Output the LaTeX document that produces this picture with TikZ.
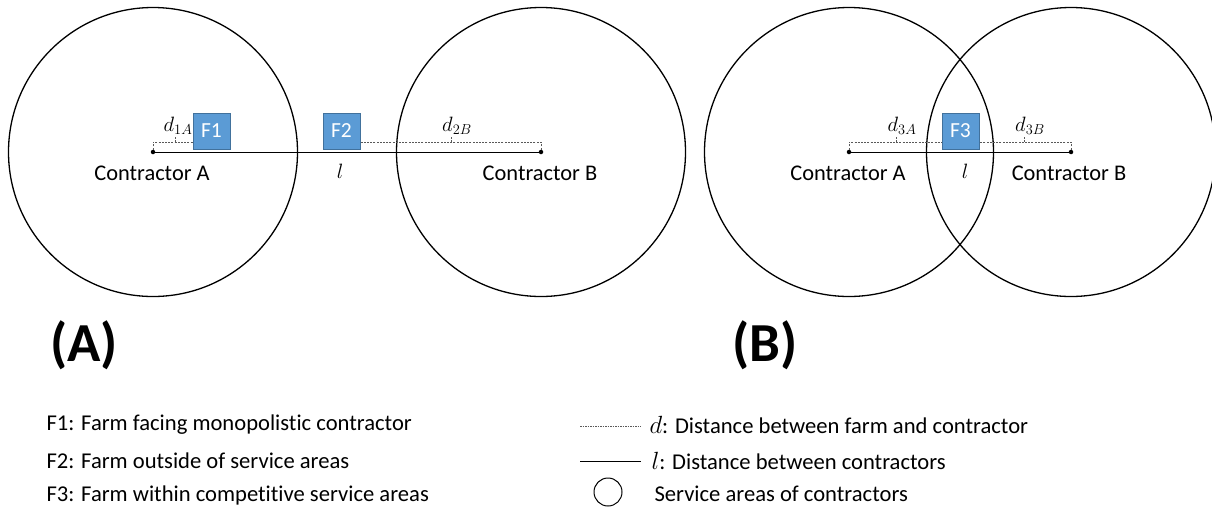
\documentclass[tikz,border=0pt]{standalone}
\usepackage{fontspec}
\setmainfont[RawFeature=-liga]{Carlito}
\definecolor{farmblue}{HTML}{5B9BD5}
\definecolor{farmedge}{HTML}{41719C}
\begin{document}
\begin{tikzpicture}[x=1pt,y=-1pt,
 area/.style={circle,draw,line width=1.3pt,minimum size=289pt,inner sep=0pt},
 dot/.style={circle,fill,inner sep=0pt,minimum size=4.5pt},
 farm/.style={draw=farmedge,fill=farmblue,line width=0.8pt,minimum width=37pt,minimum height=36pt,inner sep=0pt,text=white,font=\fontsize{21.5}{24}\selectfont},
 lab/.style={font=\fontsize{22.4}{27}\selectfont},
 dlab/.style={font=\fontsize{20}{24}\selectfont},
 conn/.style={line width=0.8pt},
 dist/.style={draw=gray!70!black,dash pattern=on 2pt off 1.2pt,line width=0.8pt},
 big/.style={font=\fontsize{55}{60}\selectfont\bfseries},
 leg/.style={anchor=west,font=\fontsize{22.6}{26}\selectfont}]
\useasboundingbox (0,0) rectangle (1212,507);
% ---------- (A) ----------
\node[dot] (a1) at (153,152) {};
\node[dot] (b1) at (541,152) {};
\node[area] (ca1) at (a1) {};
\node[area] (cb1) at (b1) {};
\draw[conn] (a1) -- (b1);
\node[farm] (f1) at (211.5,131) {F1};
\node[farm] (f2) at (341.5,131) {F2};
\draw[dist] (a1) |- ([yshift=7pt]f1.south west) coordinate (f1d);
\draw[dist] (b1) |- ([yshift=7pt]f2.south east) coordinate (f2d);
\draw[dist] (175,142) -- (175,136) coordinate (t1);
\draw[dist] (451,142) -- (451,136) coordinate (t2);
\node[dlab,anchor=south,inner sep=1pt] at ([xshift=3pt]t1) {$d_{1A}$};
\node[dlab,anchor=south,inner sep=1pt] at ([xshift=6pt]t2) {$d_{2B}$};
\node[lab] (la1) at (152,173) {Contractor A};
\node[lab] (lb1) at (540,173) {Contractor B};
\node[dlab,font=\fontsize{22}{26}\selectfont] (l1) at (340,171) {$l$};
\node[big] (capA) at (84,345) {(A)};
% ---------- (B) ----------
\node[dot] (a2) at (849,152) {};
\node[dot] (b2) at (1071,152) {};
\node[area] (ca2) at (a2) {};
\node[area] (cb2) at (b2) {};
\draw[conn] (a2) -- (b2);
\node[farm] (f3) at (960.5,131) {F3};
\draw[dist] (a2) |- ([yshift=7pt]f3.south west);
\draw[dist] (b2) |- ([yshift=7pt]f3.south east);
\draw[dist] (896,142) -- (896,136) coordinate (t3);
\draw[dist] (1024,142) -- (1024,136) coordinate (t4);
\node[dlab,anchor=south,inner sep=1pt] at ([xshift=6pt]t3) {$d_{3A}$};
\node[dlab,anchor=south,inner sep=1pt] at ([xshift=6pt]t4) {$d_{3B}$};
\node[lab] (la2) at (848,173) {Contractor A};
\node[lab] (lb2) at (1069,173) {Contractor B};
\node[dlab,font=\fontsize{22}{26}\selectfont] (l2) at (965,171) {$l$};
\node[big] (capB) at (765,345) {(B)};
% ---------- legend ----------
\node[leg] (g1) at (43,425) {F1: Farm facing monopolistic contractor};
\node[leg] (g2) at (43,461) {F2: Farm outside of service areas};
\node[leg] (g3) at (43,495) {F3: Farm within competitive service areas};
\coordinate (d0) at (580,426);
\coordinate (d1) at (641,426);
\draw[dist,line width=0.6pt,dash pattern=on 1.5pt off 1pt] (d0) -- (d1);
\node[leg] (gd) at (646,425) {\fontsize{25}{28}\selectfont$d$\fontsize{22.6}{26}\selectfont: Distance between farm and contractor};
\coordinate (s0) at (580,461);
\coordinate (s1) at (641,461);
\draw[conn] (s0) -- (s1);
\node[leg] (gl) at (648,461) {\fontsize{25}{28}\selectfont$l$\fontsize{22.6}{26}\selectfont: Distance between contractors};
\node[circle,draw,line width=1pt,minimum size=28pt,inner sep=0pt] (gc) at (608,492) {};
\node[leg] (gs) at (651,494) {Service areas of contractors};
\end{tikzpicture}
\end{document}
